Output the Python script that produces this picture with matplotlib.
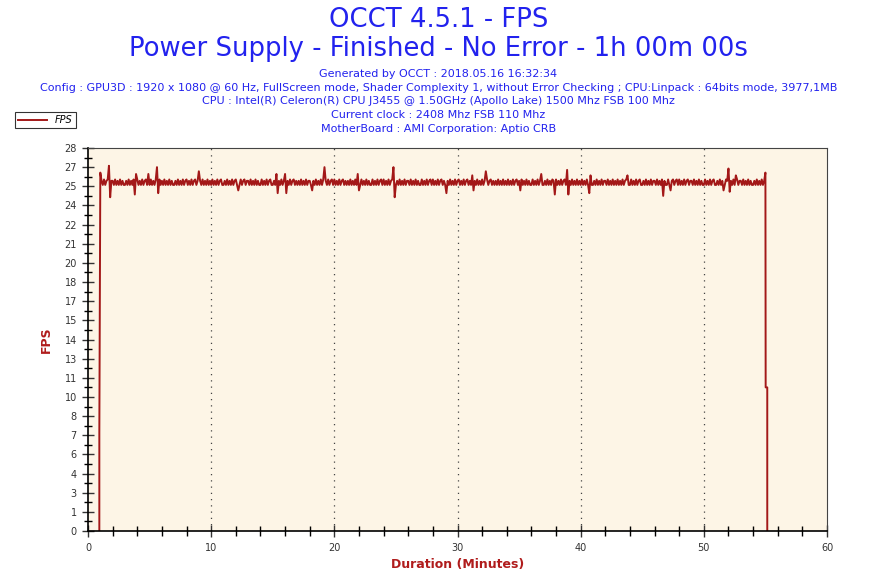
import numpy as np
import matplotlib
matplotlib.use("Agg")
import matplotlib.pyplot as plt
from matplotlib.ticker import FixedLocator, MultipleLocator

# FPS, one value every 0.1 minute from 1.0 to 55.0 (one row per minute)
fps_rows = [
    [26.2, 25.6, 25.3, 25.7, 25.3, 25.6, 25.7, 26.7, 24.4, 25.6],  # 1
    [25.6, 25.3, 25.7, 25.3, 25.6, 25.3, 25.7, 25.3, 25.6, 25.3],  # 2
    [25.3, 25.6, 25.3, 25.7, 25.3, 25.6, 25.3, 25.7, 24.6, 26.1],  # 3
    [25.7, 25.3, 25.6, 25.3, 25.7, 25.3, 25.6, 25.7, 25.3, 26.1],  # 4
    [25.3, 25.7, 25.3, 25.6, 25.3, 25.7, 26.6, 24.7, 25.7, 25.3],  # 5
    [25.6, 25.3, 25.7, 25.3, 25.6, 25.3, 25.7, 25.3, 25.6, 25.3],  # 6
    [25.3, 25.6, 25.3, 25.7, 25.3, 25.6, 25.3, 25.7, 25.3, 25.6],  # 7
    [25.7, 25.3, 25.6, 25.3, 25.7, 25.3, 25.6, 25.7, 25.3, 25.6],  # 8
    [26.3, 25.6, 25.3, 25.7, 25.3, 25.6, 25.3, 25.7, 25.3, 25.6],  # 9
    [25.3, 25.7, 25.3, 25.6, 25.3, 25.7, 25.3, 25.6, 25.7, 25.3],  # 10
    [25.3, 25.6, 25.3, 25.7, 25.3, 25.6, 25.3, 25.7, 25.3, 25.6],  # 11
    [25.7, 25.3, 24.9, 25.3, 25.7, 25.3, 25.6, 25.7, 25.3, 25.6],  # 12
    [25.6, 25.3, 25.7, 25.3, 25.6, 25.3, 25.7, 25.3, 25.6, 25.3],  # 13
    [25.3, 25.7, 25.3, 25.6, 25.3, 25.7, 25.3, 25.6, 25.7, 25.3],  # 14
    [25.3, 25.6, 25.3, 26.1, 24.7, 25.6, 25.3, 25.7, 25.3, 25.6],  # 15
    [26.1, 24.7, 25.6, 25.3, 25.7, 25.3, 25.6, 25.7, 25.3, 25.6],  # 16
    [25.3, 25.6, 25.3, 25.7, 25.3, 25.6, 25.3, 25.7, 25.3, 25.6],  # 17
    [25.6, 25.3, 24.9, 25.6, 25.3, 25.7, 25.3, 25.6, 25.3, 25.7],  # 18
    [25.3, 25.7, 26.6, 25.6, 25.3, 25.7, 25.3, 25.6, 25.7, 25.3],  # 19
    [25.7, 25.3, 25.6, 25.3, 25.7, 25.3, 25.6, 25.7, 25.3, 25.6],  # 20
    [25.3, 25.6, 25.3, 25.7, 25.3, 25.6, 25.3, 25.7, 25.3, 26.1],  # 21
    [24.9, 25.3, 25.7, 25.3, 25.6, 25.3, 25.7, 25.3, 25.6, 25.3],  # 22
    [25.3, 25.7, 25.3, 25.6, 25.3, 25.7, 25.3, 25.6, 25.7, 25.3],  # 23
    [25.7, 25.3, 25.6, 25.3, 25.7, 25.3, 25.6, 25.7, 26.6, 24.4],  # 24
    [25.3, 25.6, 25.3, 25.7, 25.3, 25.6, 25.3, 25.7, 25.3, 25.6],  # 25
    [25.6, 25.3, 25.7, 25.3, 25.6, 25.3, 25.7, 25.3, 25.6, 25.3],  # 26
    [25.3, 25.7, 25.3, 25.6, 25.3, 25.7, 25.3, 25.6, 25.7, 25.3],  # 27
    [25.7, 25.3, 25.6, 25.3, 25.7, 25.3, 25.6, 25.7, 25.3, 25.6],  # 28
    [25.3, 24.7, 25.6, 25.3, 25.7, 25.3, 25.6, 25.3, 25.7, 25.3],  # 29
    [25.6, 25.7, 25.3, 25.6, 25.3, 25.7, 25.3, 25.6, 25.7, 25.3],  # 30
    [25.6, 25.3, 26.0, 24.9, 25.6, 25.3, 25.7, 25.3, 25.6, 25.3],  # 31
    [25.7, 25.3, 25.6, 26.3, 25.7, 25.3, 25.6, 25.7, 25.3, 25.6],  # 32
    [25.3, 25.6, 25.3, 25.7, 25.3, 25.6, 25.3, 25.7, 25.3, 25.6],  # 33
    [25.3, 25.7, 25.3, 25.6, 25.3, 25.7, 25.3, 25.6, 25.7, 25.3],  # 34
    [25.6, 24.9, 25.7, 25.3, 25.6, 25.3, 25.7, 25.3, 25.6, 25.3],  # 35
    [25.3, 25.7, 25.3, 25.6, 25.3, 25.7, 25.3, 25.6, 26.1, 25.3],  # 36
    [25.3, 25.6, 25.3, 25.7, 25.3, 25.6, 25.3, 25.7, 25.6, 24.6],  # 37
    [25.7, 25.3, 25.6, 25.3, 25.7, 25.3, 25.6, 25.7, 25.3, 26.4],  # 38
    [24.6, 25.6, 25.3, 25.7, 25.3, 25.6, 25.3, 25.7, 25.3, 25.6],  # 39
    [25.3, 25.7, 25.3, 25.6, 25.3, 25.7, 25.3, 24.7, 26.0, 25.3],  # 40
    [25.3, 25.6, 25.3, 25.7, 25.3, 25.6, 25.3, 25.7, 25.3, 25.6],  # 41
    [25.6, 25.3, 25.7, 25.3, 25.6, 25.3, 25.7, 25.3, 25.6, 25.3],  # 42
    [25.7, 25.3, 25.6, 25.3, 25.7, 25.3, 25.6, 25.7, 26.0, 25.3],  # 43
    [25.3, 25.7, 25.3, 25.6, 25.3, 25.7, 25.3, 25.6, 25.7, 25.3],  # 44
    [25.3, 25.6, 25.3, 25.7, 25.3, 25.6, 25.3, 25.7, 25.3, 25.6],  # 45
    [25.6, 25.3, 25.7, 25.3, 25.6, 25.3, 25.7, 24.5, 25.6, 25.3],  # 46
    [25.3, 25.7, 25.3, 24.9, 25.6, 25.7, 25.3, 25.6, 25.7, 25.3],  # 47
    [25.7, 25.3, 25.6, 25.3, 25.7, 25.3, 25.6, 25.7, 25.3, 25.6],  # 48
    [25.6, 25.3, 25.7, 25.3, 25.6, 25.3, 25.7, 25.3, 25.6, 25.3],  # 49
    [25.3, 25.7, 25.3, 25.6, 25.3, 25.7, 25.3, 25.6, 25.7, 25.3],  # 50
    [25.3, 25.6, 25.3, 25.7, 25.3, 25.6, 24.9, 25.3, 25.7, 25.6],  # 51
    [26.5, 24.8, 25.6, 25.3, 25.7, 25.3, 26.0, 25.7, 25.3, 25.6],  # 52
    [25.6, 25.3, 25.7, 25.3, 25.6, 25.3, 25.7, 25.3, 25.6, 25.3],  # 53
    [25.3, 25.6, 25.3, 25.7, 25.3, 25.6, 25.3, 25.7, 25.3, 25.6],  # 54
    [26.2],                                                        # 55.0
]

# ramp up at the start and drop at the end of the test
start_t = [0.92, 0.92]
start_v = [0.0, 7.2]
end_t = [55.02, 55.15, 55.15]
end_v = [10.5, 10.5, 0.0]

ytick_labels = ['0', '1', '3', '4', '6', '7', '8', '10', '11', '13', '14',
                '15', '17', '18', '20', '21', '22', '24', '25', '27', '28']

title1 = "OCCT 4.5.1 - FPS"
title2 = "Power Supply - Finished - No Error - 1h 00m 00s"
info_lines = [
    "Generated by OCCT : 2018.05.16 16:32:34",
    "Config : GPU3D : 1920 x 1080 @ 60 Hz, FullScreen mode, Shader Complexity 1, without Error Checking ; CPU:Linpack : 64bits mode, 3977,1MB",
    "CPU : Intel(R) Celeron(R) CPU J3455 @ 1.50GHz (Apollo Lake) 1500 Mhz FSB 100 Mhz",
    "Current clock : 2408 Mhz FSB 110 Mhz",
    "MotherBoard : AMI Corporation: Aptio CRB",
]

main_v = [v for row in fps_rows for v in row]
main_t = list(np.round(1.0 + 0.1 * np.arange(len(main_v)), 2))
t = start_t + main_t + end_t
v = start_v + main_v + end_v

line_col = '#a31818'
title_col = '#2222ee'
label_col = '#b01c1c'

fig = plt.figure(figsize=(8.77, 5.85), dpi=100)
ax = fig.add_axes([88/877, 54/585, 739/877, 383/585])
ax.set_facecolor('#fdf5e6')

ax.plot(t, v, color=line_col, lw=1.4, label='FPS')

ax.set_xlim(0, 60)
ax.set_ylim(0, 28)
ax.xaxis.set_major_locator(MultipleLocator(10))
ax.xaxis.set_minor_locator(MultipleLocator(2))
ax.yaxis.set_major_locator(FixedLocator(np.linspace(0, 28, 21)))
ax.yaxis.set_minor_locator(FixedLocator(np.linspace(0, 28, 41)))
ax.set_yticklabels(ytick_labels)
ax.tick_params(which='major', direction='inout', length=9, width=1,
               labelsize=7, colors='#333333')
ax.tick_params(which='minor', direction='inout', length=6, width=1)
ax.tick_params(axis='x', which='minor', length=7)
ax.tick_params(axis='x', pad=4)

for gx in [10, 20, 30, 40, 50]:
    ax.axvline(gx, color='#444444', lw=0.9, ls=(0, (1, 4)), zorder=0.5)

for s in ['left', 'bottom']:
    ax.spines[s].set_linewidth(1.2)
for s in ['top', 'right']:
    ax.spines[s].set_linewidth(0.8)
    ax.spines[s].set_color('#444444')

ax.set_xlabel('Duration (Minutes)', color=label_col, fontsize=9,
              fontweight='bold', labelpad=4)
ax.set_ylabel('FPS', color=label_col, fontsize=9, fontweight='bold',
              labelpad=8)

fig.text(0.5, 1 - 20/585, title1, ha='center', va='center', fontsize=18.6,
         color=title_col)
fig.text(0.5, 1 - 49/585, title2, ha='center', va='center', fontsize=18.6,
         color=title_col)
for i, line in enumerate(info_lines):
    fig.text(0.5, 1 - (74 + 13.7*i)/585, line, ha='center', va='center',
             fontsize=8, color=title_col)

leg = fig.legend(loc='upper left', bbox_to_anchor=(15/877, 1 - 112/585),
                 borderaxespad=0, frameon=True, fancybox=False,
                 handlelength=3, borderpad=0.3,
                 prop={'style': 'italic', 'size': 7})
leg.get_frame().set_edgecolor('black')
leg.get_frame().set_linewidth(0.8)

fig.savefig('out.png', dpi=100)
